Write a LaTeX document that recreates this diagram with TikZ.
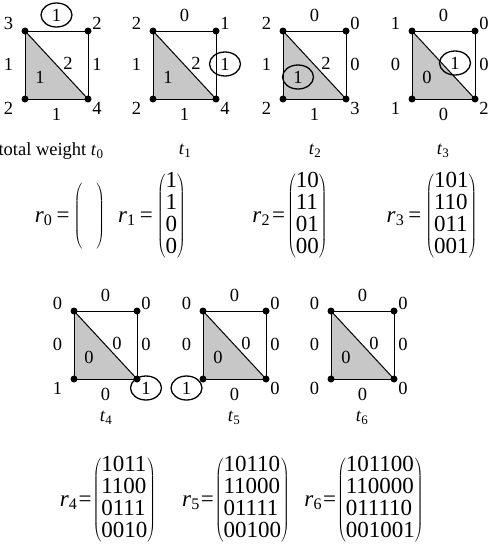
\documentclass[tikz,border=0pt]{standalone}
\usepackage{fontspec}
\setmainfont{Liberation Serif}
\usetikzlibrary{
  calc,
  positioning,
  shapes.geometric,
}
\tikzset{
  vdot/.style = {circle, fill=black, minimum
      size=#1, inner sep=0pt, outer sep=0pt},
  vdot/.default = 7pt, % diameter of the vertex dots
  lbl/.style = {inner sep=1pt, font=\fontsize{18.5}{21}\selectfont},
  ring/.style = {ellipse, draw, line width=1.3pt,
      minimum width=31pt, minimum height=24pt, inner sep=0pt},
  mat/.style = {inner sep=0pt, font=\fontsize{23}{22}\selectfont},
}

% one weighted square: name, top left corner, ten labels
% (nw/n/ne/w/in/dg/e/sw/s/se)
\newcommand\wsq[3]{%
  \begin{scope}[shift={#2}]
    \coordinate (#1-tl) at (0,0);
    \coordinate (#1-tr) at (63,0);
    \coordinate (#1-bl) at (0,68);
    \coordinate (#1-br) at (63,68);
    \fill[black!22] (#1-tl) -- (#1-br) -- (#1-bl) -- cycle;
    \draw[line width=1pt] (#1-tl) -- (#1-tr) -- (#1-br) -- (#1-bl) -- cycle;
    \draw[line width=1pt] (#1-tl) -- (#1-br);
    \foreach \v in {tl,tr,bl,br}
      \node[vdot] (#1-\v-dot) at (#1-\v) {};
    \foreach \a/\b/\c/\d/\e/\f/\g/\h/\k/\m in {#3} {
      \node[lbl] (#1-nw) at (-16.5,-8) {\a};
      \node[lbl] (#1-n) at (31.5,-16) {\b};
      \node[lbl] (#1-ne) at (72,-8) {\c};
      \node[lbl] (#1-w) at (-16.5,33) {\d};
      \node[lbl] (#1-in) at (15,46) {\e};
      \node[lbl] (#1-dg) at (43,32) {\f};
      \node[lbl] (#1-e) at (72,33) {\g};
      \node[lbl] (#1-sw) at (-16.5,77) {\h};
      \node[lbl] (#1-s) at (31.5,83) {\k};
      \node[lbl] (#1-se) at (72,77) {\m};
    }
  \end{scope}%
}
% r_i = (column of rows); #3 is the space round "="
\newcommand\rmat[3]{\textit{r}\textsubscript{#1}\hspace{#3}=\hspace{#3}$\left(\vcenter{\hbox{\begin{tabular}{@{}l@{}}#2\end{tabular}}}\right)$}

\begin{document}
\begin{tikzpicture}[x=1pt, y=-1pt]
  \useasboundingbox (0,0) rectangle (490,554);

  % first row
  \wsq{t0}{(25,31)}{3/1/2/1/1/2/1/2/1/4}
  \wsq{t1}{(153,31)}{2/0/1/1/1/2/1/2/1/4}
  \wsq{t2}{(283,31)}{2/0/0/1/1/2/0/2/1/3}
  \wsq{t3}{(412,31)}{1/0/0/0/0/1/0/1/0/2}
  \node[ring] (t0-ring) at (t0-n) {};
  \node[ring] (t1-ring) at (t1-e) {};
  \node[ring] (t2-ring) at (t2-in) {};
  \node[ring] (t3-ring) at (t3-dg) {};

  \node[lbl] (t0-name) at (51,151) {total weight \textit{t}\textsubscript{0}};
  \node[lbl] (t1-name) at (185,151) {\textit{t}\textsubscript{1}};
  \node[lbl] (t2-name) at (315,151) {\textit{t}\textsubscript{2}};
  \node[lbl] (t3-name) at (443,151) {\textit{t}\textsubscript{3}};

  \node[mat] (r0) at (70,216) {\rmat{0}{\rule{14pt}{0pt}\\ \\ \\ }{4pt}};
  \node[mat] (r1) at (152,216) {\rmat{1}{1\\1\\0\\0}{4pt}};
  \node[mat] (r2) at (290,216) {\rmat{2}{10\\11\\01\\00}{2pt}};
  \node[mat] (r3) at (432,216) {\rmat{3}{101\\110\\011\\001}{4pt}};

  % second row
  \wsq{t4}{(74,311)}{0/0/0/0/0/0/0/1/0/1}
  \wsq{t5}{(203,311)}{0/0/0/0/0/0/0/1/0/0}
  \wsq{t6}{(331,311)}{0/0/0/0/0/0/0/0/0/0}
  \node[ring] (t4-ring) at (t4-se) {};
  \node[ring] (t5-ring) at (t5-sw) {};

  \node[lbl] (t4-name) at (106,418) {\textit{t}\textsubscript{4}};
  \node[lbl] (t5-name) at (234,418) {\textit{t}\textsubscript{5}};
  \node[lbl] (t6-name) at (362,418) {\textit{t}\textsubscript{6}};

  \node[mat] (r4) at (108,500) {\rmat{4}{1011\\1100\\0111\\0010}{1pt}};
  \node[mat] (r5) at (236,500) {\rmat{5}{10110\\11000\\01111\\00100}{1pt}};
  \node[mat] (r6) at (364,500) {\rmat{6}{101100\\110000\\011110\\001001}{1pt}};
\end{tikzpicture}
\end{document}
